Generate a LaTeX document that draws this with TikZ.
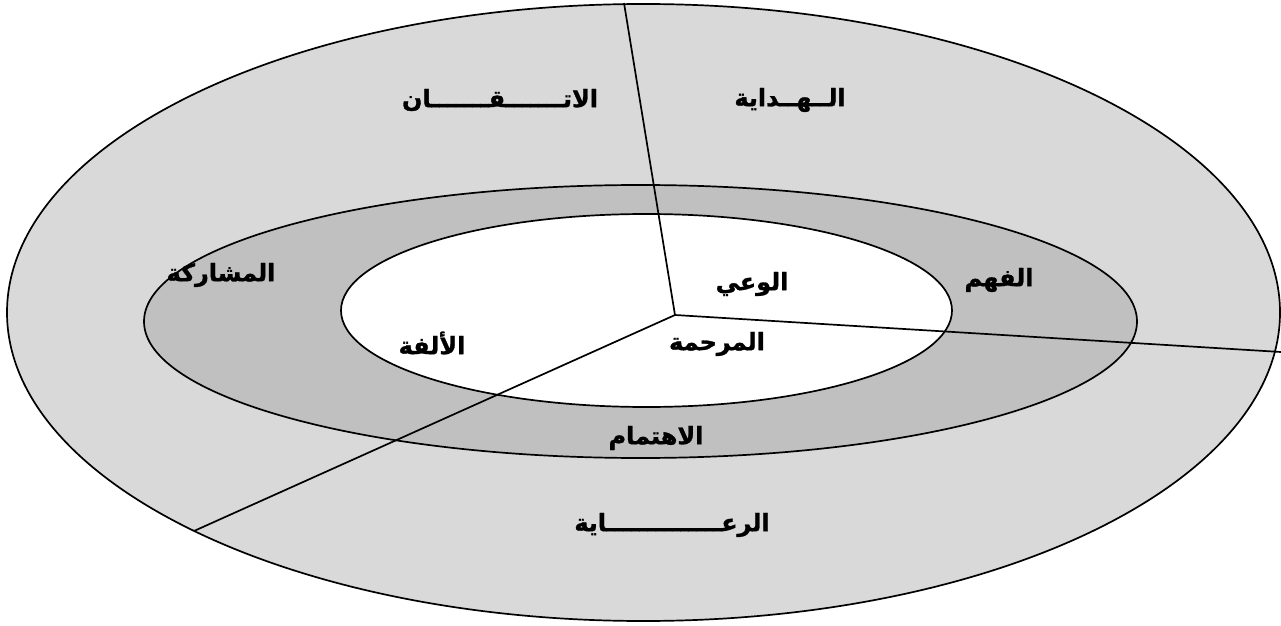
\documentclass[tikz,border=0pt]{standalone}
\usepackage{fontspec}
\newfontfamily\arabicfont[Script=Arabic, BoldFeatures={FakeBold=1.2}]{DejaVu Sans}
\TeXXeTstate=1
\definecolor{ringout}{HTML}{D9D9D9}
\definecolor{ringmid}{HTML}{C0C0C0}

\begin{document}
\begin{tikzpicture}[
    x=1bp, y=-1bp,
    ring/.style={draw=black, line width=1.7bp},
    spoke/.style={draw=black, line width=1.7bp},
    word/.style={font=\arabicfont\bfseries\fontsize{24}{28}\selectfont, inner sep=0pt},
]
\useasboundingbox (0,0) rectangle (1281,626);

% three rings
\filldraw[ring, fill=ringout] (643.5,312.5) ellipse [x radius=636.5, y radius=308.5];
\filldraw[ring, fill=ringmid] (640.5,321.5) ellipse [x radius=496.5, y radius=136.5];
\filldraw[ring, fill=white]   (646.5,310.5) ellipse [x radius=305.5, y radius=96.5];

% spokes
\coordinate (hub)   at (675,315);
\coordinate (north) at (624,3);
\coordinate (east)  at (1281,352);
\coordinate (west)  at (194,531);
\draw[spoke] (hub) -- (north);
\draw[spoke] (hub) -- (east);
\draw[spoke] (hub) -- (west);

% outer ring
\node[word] (itqan)  at (500,100) {\beginR الاتـــــــقـــــــان\endR};
\node[word] (hidaya) at (790,100) {\beginR الــهــداية\endR};
\node[word] (riaya)  at (672,525) {\beginR الرعــــــــــــــاية\endR};
% middle ring
\node[word] (musharaka) at (221,275) {\beginR المشاركة\endR};
\node[word] (fahm)      at (999,280) {\beginR الفهم\endR};
\node[word] (ihtimam)   at (656,438) {\beginR الاهتمام\endR};
% inner ring
\node[word] (wai)     at (752,284) {\beginR الوعي\endR};
\node[word] (ulfa)    at (432,343) {\beginR الألفة\endR};
\node[word] (marhama) at (717,344) {\beginR المرحمة\endR};

\end{tikzpicture}
\end{document}
